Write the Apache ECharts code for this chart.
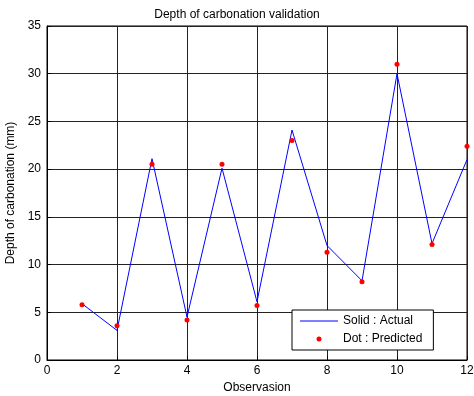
<!DOCTYPE html>
<html>
<head>
<meta charset="utf-8">
<script src="https://cdn.jsdelivr.net/npm/echarts@6/dist/echarts.min.js"></script>
<style>
  html, body { margin: 0; padding: 0; background: #fff; }
  #chart { width: 474px; height: 396px; }
</style>
</head>
<body>
<div id="chart"></div>
<script>
// observations 1..12
var observations = [1, 2, 3, 4, 5, 6, 7, 8, 9, 10, 11, 12];
var actual = [5.9, 3.1, 21.1, 4.5, 20.1, 6.1, 24.1, 12.0, 8.3, 30.0, 12.2, 21.0];
var predicted = [5.8, 3.6, 20.5, 4.2, 20.5, 5.7, 23.0, 11.3, 8.2, 31.0, 12.1, 22.4];

var font = 'Liberation Sans, Arial, sans-serif';

var chart = echarts.init(document.getElementById('chart'));

var option = {
    animation: false,
    title: {
        text: 'Depth of carbonation validation',
        left: 'center',
        top: 4,
        textStyle: { fontFamily: font, fontSize: 12, fontWeight: 'normal', color: '#000' }
    },
    grid: {
        left: 47, right: 7, top: 26, bottom: 36,
        outerBoundsMode: 'none',
        containLabel: false,
        show: true, borderColor: '#000', borderWidth: 1
    },
    legend: {
        orient: 'vertical',
        left: 292, top: 310,
        padding: [5, 11, 5, 8],
        itemWidth: 38, itemHeight: 5, itemGap: 6,
        backgroundColor: '#fff',
        borderColor: '#000', borderWidth: 1,
        textStyle: { fontFamily: font, fontSize: 12, color: '#000' },
        data: [
            { name: 'Solid : Actual', icon: 'path://M0,0H40V1H0Z' },
            { name: 'Dot : Predicted', icon: 'circle' }
        ]
    },
    xAxis: {
        type: 'value',
        min: 0, max: 12, interval: 2,
        name: 'Observasion',
        nameLocation: 'middle',
        nameGap: 20,
        nameTextStyle: { fontFamily: font, fontSize: 12, color: '#000' },
        axisLine: { lineStyle: { color: '#000' } },
        axisTick: { inside: true, length: 4, lineStyle: { color: '#000' } },
        axisLabel: { fontFamily: font, fontSize: 12, color: '#000', margin: 5 },
        splitLine: { show: true, lineStyle: { color: '#222', width: 1 } }
    },
    yAxis: {
        type: 'value',
        min: 0, max: 35, interval: 5,
        name: 'Depth of carbonation (mm)',
        nameLocation: 'middle',
        nameGap: 26,
        nameTextStyle: { fontFamily: font, fontSize: 12, color: '#000' },
        axisLine: { show: true, lineStyle: { color: '#000' } },
        axisTick: { inside: true, length: 4, lineStyle: { color: '#000' } },
        axisLabel: { fontFamily: font, fontSize: 12, color: '#000', margin: 6 },
        splitLine: { show: true, lineStyle: { color: '#222', width: 1 } }
    },
    series: [
        {
            name: 'Solid : Actual',
            type: 'line',
            data: observations.map(function (x, i) { return [x, actual[i]]; }),
            showSymbol: false,
            symbol: 'none',
            lineStyle: { color: '#0000ff', width: 1 },
            itemStyle: { color: '#0000ff' }
        },
        {
            name: 'Dot : Predicted',
            type: 'scatter',
            data: observations.map(function (x, i) { return [x, predicted[i]]; }),
            symbol: 'circle',
            symbolSize: 5,
            itemStyle: { color: '#ff0000', opacity: 1 },
            z: 3
        }
    ]
};
chart.setOption(option);
</script>
</body>
</html>
